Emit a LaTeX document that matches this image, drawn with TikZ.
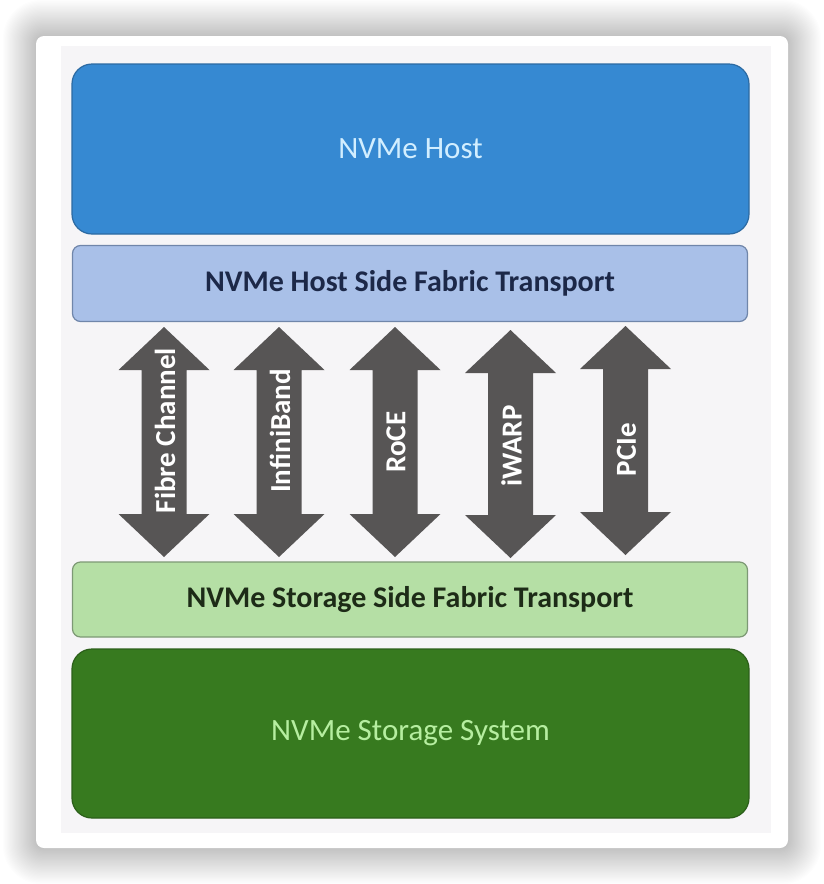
\documentclass[tikz,border=0pt]{standalone}
\usepackage{fontspec}
\setmainfont{Carlito}
\usetikzlibrary{calc}
\definecolor{panelc}{HTML}{F6F5F7}
\definecolor{hostfill}{HTML}{3689D2}
\definecolor{hostdraw}{HTML}{2C6AA2}
\definecolor{hosttext}{HTML}{D2EEFF}
\definecolor{hsfill}{HTML}{A9C0E8}
\definecolor{hsdraw}{HTML}{7086AA}
\definecolor{hstext}{HTML}{1C2848}
\definecolor{arrowc}{HTML}{575555}
\definecolor{ssfill}{HTML}{B5DFA5}
\definecolor{ssdraw}{HTML}{7D9975}
\definecolor{sstext}{HTML}{1D2B17}
\definecolor{stfill}{HTML}{377A1F}
\definecolor{stdraw}{HTML}{2C5F1A}
\definecolor{sttext}{HTML}{B6EEA0}
\tikzset{
  bigbox/.style={rounded corners=20pt, line width=1.2pt, inner sep=0pt},
  thinbox/.style={rounded corners=8pt, line width=1.2pt, inner sep=0pt},
  arrowlabel/.style={rotate=90, text=white, font=\bfseries\fontsize{29}{32}\selectfont, inner sep=0pt},
  blockarrow/.style={fill=arrowc},
}
% #1 name, #2 x, #3 top tip y, #4 bottom tip y, #5 label centre y, #6 label
\newcommand{\fabarrow}[6]{%
  \coordinate (#1t) at (#2,#3);
  \coordinate (#1b) at (#2,#4);
  \fill[blockarrow] (#1t) -- ($(#1t)+(45.5,43)$) -- ($(#1t)+(22.5,43)$) -- ($(#1b)+(22.5,-43)$) -- ($(#1b)+(45.5,-43)$) -- (#1b)
     -- ($(#1b)+(-45.5,-43)$) -- ($(#1b)+(-22.5,-43)$) -- ($(#1t)+(-22.5,43)$) -- ($(#1t)+(-45.5,43)$) -- cycle;
  \node[arrowlabel] (#1l) at (#2+1,#5) {#6};
}
\begin{document}
\begin{tikzpicture}[x=1pt,y=-1pt]
\useasboundingbox (0,0) rectangle (824,884);
\fill[white] (0,0) rectangle (824,884);
% shadow
\foreach \i in {1,...,30}{
  \fill[black, opacity=0.0075, rounded corners={8pt+\i pt}] (36-\i*1.1,36-\i*1.2) rectangle (788+\i*1.1,848+\i*1.2);
}
\node[fill=white, rounded corners=8pt, minimum width=752pt, minimum height=812pt, inner sep=0pt] (card) at (412,442) {};
\node[fill=panelc, minimum width=710pt, minimum height=787pt, inner sep=0pt] (panel) at (416,439.5) {};
% boxes
\node[bigbox, fill=hostfill, draw=hostdraw, minimum width=677pt, minimum height=170pt,
  text=hosttext, font=\fontsize{31}{34}\selectfont] (host) at (410.5,149) {NVMe Host};
\node[thinbox, fill=hsfill, draw=hsdraw, minimum width=675pt, minimum height=76pt,
  text=hstext, font=\bfseries\fontsize{30}{33}\selectfont] (hs) at (410,283.5) {NVMe Host Side Fabric Transport};
\node[thinbox, fill=ssfill, draw=ssdraw, minimum width=675pt, minimum height=75pt,
  text=sstext, font=\bfseries\fontsize{30}{33}\selectfont] (ss) at (410,599.5) {NVMe Storage Side Fabric Transport};
\node[bigbox, fill=stfill, draw=stdraw, minimum width=677pt, minimum height=169pt,
  text=sttext, font=\fontsize{31}{34}\selectfont] (st) at (410.5,733.5) {NVMe Storage System};
% arrows
\fabarrow{fc}{164}{327}{557}{430.5}{Fibre Channel}
\fabarrow{ib}{279}{327}{557}{431}{InfiniBand}
\fabarrow{roce}{395}{327}{557}{442}{RoCE}
\fabarrow{iw}{510.5}{330}{558}{446}{iWARP}
\fabarrow{pcie}{625.5}{326}{555}{449.5}{PCIe}
\end{tikzpicture}
\end{document}
